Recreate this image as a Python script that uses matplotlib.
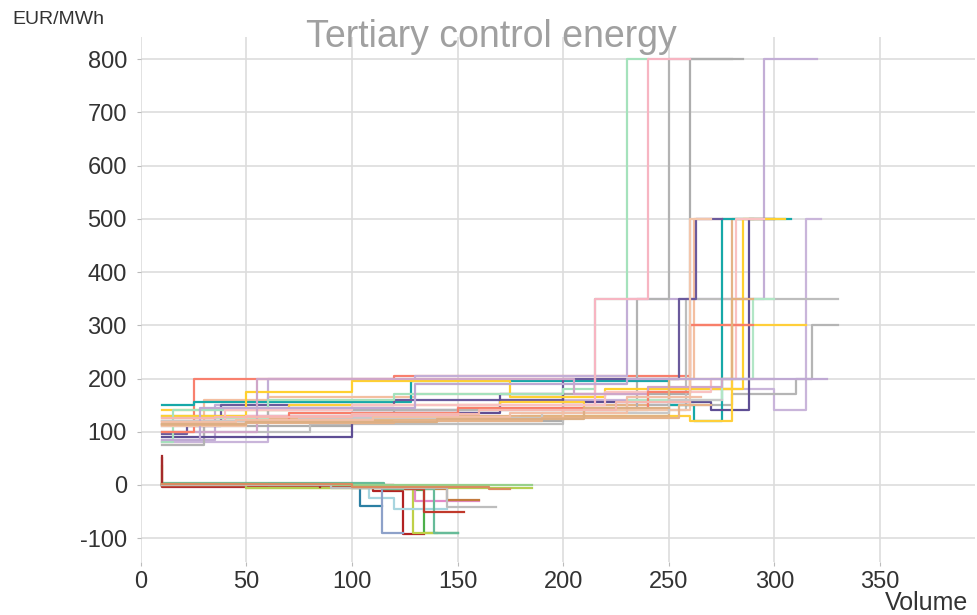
import matplotlib
matplotlib.use("Agg")
import matplotlib.pyplot as plt

plt.rcParams['font.family'] = ['Liberation Sans', 'DejaVu Sans']
plt.rcParams['axes.unicode_minus'] = False

# offer curves (volume breakpoints, price per step) - steps-post
pos_x = [
    [10, 25, 120, 215, 260, 285],
    [10, 30, 60, 130, 215, 262, 300],
    [10, 50, 110, 200, 240, 280, 290],
    [10, 35, 60, 130, 230, 295, 320],
    [10, 60, 170, 250, 300, 315, 322],
    [10, 30, 60, 235, 250, 280],
    [10, 100, 200, 260, 285],
    [10, 120, 240, 280, 310, 318, 330],
    [10, 80, 200, 258, 330],
    [10, 25, 128, 250, 262, 275, 308],
    [10, 22, 38, 120, 200, 255, 263, 275],
    [10, 100, 170, 200, 270, 288, 300],
    [10, 50, 100, 175, 220, 285, 305],
    [10, 70, 170, 210, 260, 280, 315],
    [10, 15, 60, 120, 200, 215, 230, 240],
    [10, 60, 150, 230, 275, 290, 300],
    [10, 50, 150, 215, 240, 260],
    [10, 40, 100, 220, 270, 282, 295],
    [10, 55, 125, 205, 240, 275, 300],
    [10, 25, 70, 150, 240, 260, 290],
    [10, 50, 100, 180, 250, 280, 290],
    [10, 50, 90, 200, 260, 270],
    [10, 75, 190, 250, 275],
    [10, 28, 130, 230, 295, 325],
    [10, 50, 120, 190, 255, 270],
    [10, 45, 110, 175, 230, 265],
    [10, 50, 140, 210, 250],
    [10, 35, 100, 160, 225, 260],
]
pos_y = [
    [115, 200, 205, 205, 300, 300],
    [80, 160, 165, 170, 200, 500, 500],
    [120, 125, 130, 150, 180, 500, 500],
    [85, 150, 200, 205, 350, 800, 800],
    [80, 140, 160, 180, 140, 500, 500],
    [75, 120, 140, 350, 800, 800],
    [110, 120, 170, 800, 800],
    [130, 140, 150, 170, 200, 300, 300],
    [100, 115, 140, 350, 350],
    [150, 155, 195, 150, 120, 500, 500],
    [95, 110, 150, 160, 200, 350, 500, 500],
    [90, 135, 170, 155, 140, 500, 500],
    [130, 175, 195, 165, 180, 500, 500],
    [140, 150, 155, 130, 120, 300, 300],
    [80, 140, 160, 170, 180, 350, 800, 800],
    [125, 130, 145, 160, 200, 350, 350],
    [120, 130, 150, 350, 800, 800],
    [115, 140, 150, 175, 200, 500, 500],
    [100, 200, 200, 170, 185, 200, 200],
    [100, 120, 135, 145, 175, 300, 300],
    [115, 118, 122, 130, 200, 350, 350],
    [110, 118, 125, 140, 500, 500],
    [120, 125, 135, 160, 160],
    [85, 145, 190, 200, 200, 200],
    [112, 116, 120, 126, 150, 150],
    [118, 122, 128, 135, 165, 165],
    [114, 118, 124, 145, 145],
    [125, 128, 133, 140, 155, 155],
]
pos_colors = ['#F8806E', '#F4BFA0', '#E4B386', '#C3AED6', '#C9B5DA', '#B3B3B3',
              '#ADADAD', '#B5B5B5', '#BDBDBD', '#16A8A8', '#6A5A9C', '#5E4E94',
              '#FFD030', '#FFCF3A', '#A5E2BC', '#B2E6C6', '#F7B5C2', '#F9C2C2',
              '#CFA6C8', '#F87F6A', '#E2B27E', '#F3C6AB', '#C8C8C8', '#BFA9D3',
              '#E6B38A', '#F2BFA6', '#DDAF84', '#F5B8B0']

neg_x = [
    [10, 10, 110, 124, 134],
    [10, 60, 104, 114],
    [10, 100, 130, 134, 150],
    [10, 10, 50, 115, 129, 140],
    [10, 100, 108, 120, 145],
    [10, 120, 130, 160],
    [10, 100, 114, 124],
    [10, 120, 145, 160],
    [10, 115, 139, 150],
    [10, 125, 134, 153],
    [10, 50, 175, 185],
    [10, 60, 185],
    [10, 10, 85],
    [10, 90, 145, 168],
    [10, 100, 165, 175],
]
neg_y = [
    [50, -3, -12, -92, -92],
    [0, -3, -40, -40],
    [2, -3, -10, -90, -90],
    [35, 0, -5, -8, -90, -90],
    [0, -5, -25, -45, -45],
    [0, -5, -30, -30],
    [-2, -5, -90, -90],
    [0, -8, -28, -28],
    [3, -8, -90, -90],
    [-2, -8, -51, -51],
    [0, -5, -5, -5],
    [2, 0, 0],
    [55, 0, -3],
    [0, -6, -42, -42],
    [1, -3, -8, -8],
]
neg_colors = ['#B22222', '#2B7FA3', '#4DAF4A', '#BFD047', '#A8D5DF', '#E38AC8',
              '#8DA1C9', '#C27A3E', '#66BB99', '#C0392B', '#B5CF52', '#98D08A',
              '#A52A2A', '#BDBDBD', '#D98C5F']

fig = plt.figure(figsize=(9.78, 6.15), dpi=100)
ax = fig.add_axes([0.144, 0.086, 0.853, 0.854])

for xs, ys, c in zip(pos_x, pos_y, pos_colors):
    ax.plot(xs, ys, drawstyle='steps-post', color=c, lw=1.6)
for xs, ys, c in zip(neg_x, neg_y, neg_colors):
    ax.plot(xs, ys, drawstyle='steps-post', color=c, lw=1.6)

ax.set_xlim(0, 395)
ax.set_ylim(-145, 842)
ax.set_xticks(range(0, 400, 50))
ax.set_yticks(range(-100, 900, 100))
ax.grid(True, color='#DDDDDD', lw=1.2)
ax.set_axisbelow(True)
for s in ax.spines.values():
    s.set_visible(False)
ax.tick_params(colors='#BBBBBB', labelcolor='#333333', labelsize=17, length=3)
ax.tick_params(axis='y', pad=7)

ax.text(0.42, 1.0, 'Tertiary control energy', transform=ax.transAxes,
        ha='center', va='center', fontsize=27, color='#A0A0A0')
fig.text(12 / 978, 1 - 20 / 615, 'EUR/MWh', ha='left', va='center',
         fontsize=14, color='#333333')
fig.text(968 / 978, 1 - 603 / 615, 'Volume', ha='right', va='center',
         fontsize=18, color='#333333')

fig.savefig('out.png', dpi=100)
